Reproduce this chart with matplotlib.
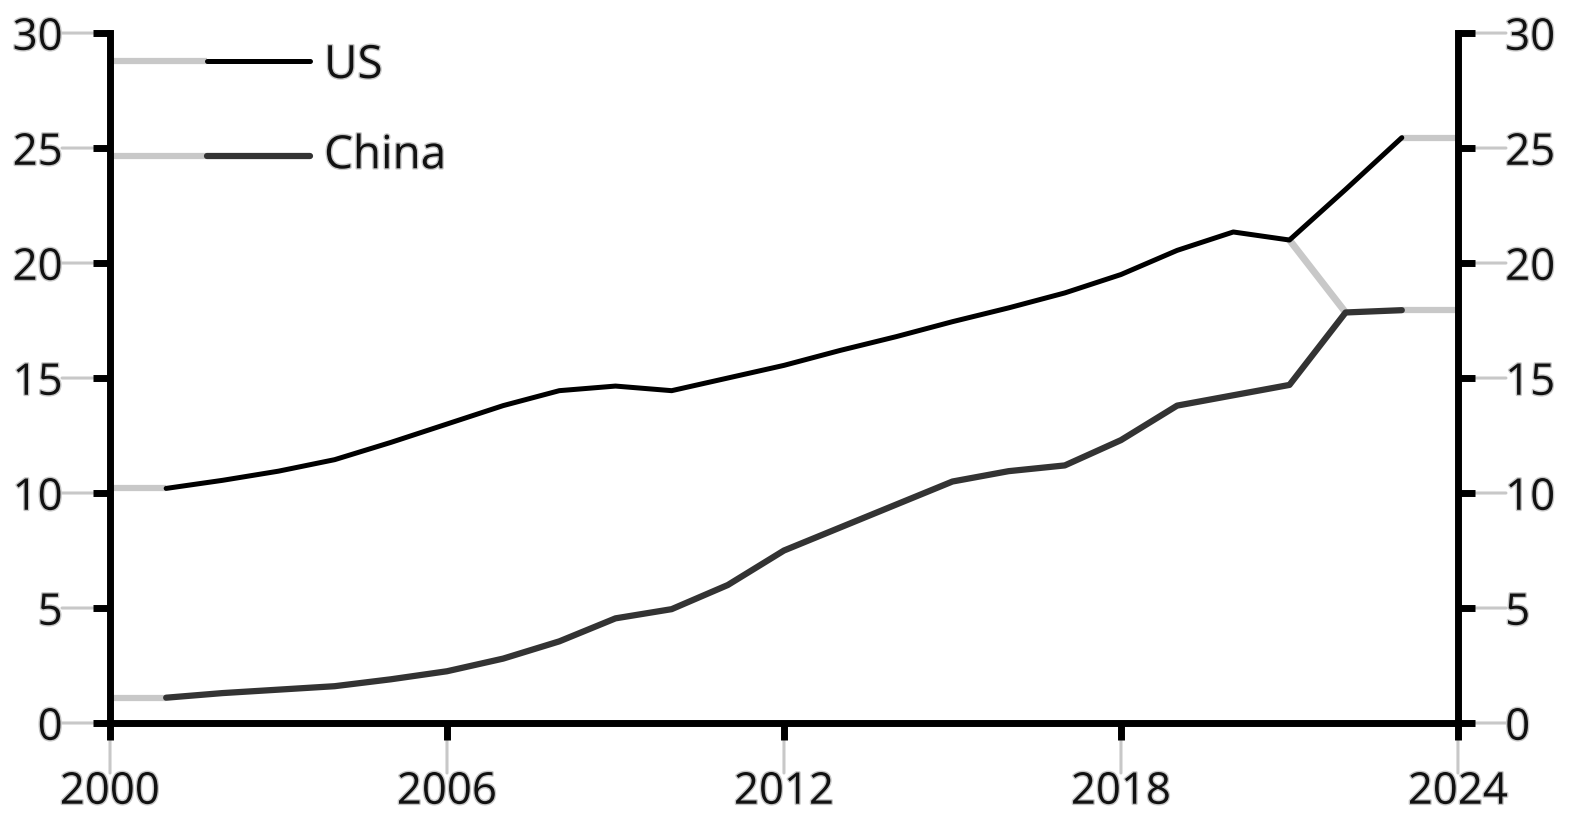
import matplotlib
matplotlib.use("Agg")
from matplotlib import pyplot as plt
from matplotlib import patheffects as pe

# values
years = [2001, 2002, 2003, 2004, 2005, 2006, 2007, 2008, 2009, 2010, 2011, 2012,
         2013, 2014, 2015, 2016, 2017, 2018, 2019, 2020, 2021, 2022, 2023]
us = [10.2, 10.55, 10.95, 11.45, 12.2, 13.0, 13.8, 14.45, 14.65, 14.45, 15.0, 15.55,
      16.2, 16.8, 17.45, 18.05, 18.7, 19.5, 20.55, 21.35, 21.0, 23.2, 25.45]
china = [1.1, 1.3, 1.45, 1.6, 1.9, 2.25, 2.8, 3.55, 4.55, 4.95, 6.0, 7.5,
         8.5, 9.5, 10.5, 10.95, 11.2, 12.3, 13.8, 14.25, 14.7, 17.85, 17.95]
yticks = [0, 5, 10, 15, 20, 25, 30]
xticks = [2000, 2006, 2012, 2018, 2024]
names = ["US", "China"]

GRAY = "#c8c8c8"
US_COL = "#000000"
CN_COL = "#333333"

plt.rcParams['font.family'] = ['Open Sans', 'DejaVu Sans']

fig = plt.figure(figsize=(15.76, 8.26), dpi=100)
ax = fig.add_axes([0.0698, 0.1247, 0.8553, 0.8353])
ax.set_xlim(2000, 2024)
ax.set_ylim(0, 30)

halo = [pe.withStroke(linewidth=2, foreground=GRAY)]

# gray stubs (axis -> first point, last point -> axis, US -> China jump)
ax.plot([2000, years[0]], [us[0], us[0]], color=GRAY, lw=4.5, solid_capstyle='butt', zorder=2)
ax.plot([2000, years[0]], [china[0], china[0]], color=GRAY, lw=4.5, solid_capstyle='butt', zorder=2)
ax.plot([years[-1], 2024], [us[-1], us[-1]], color=GRAY, lw=4.5, solid_capstyle='butt', zorder=2)
ax.plot([years[-1], 2024], [china[-1], china[-1]], color=GRAY, lw=4.5, solid_capstyle='butt', zorder=2)
ax.plot([years[-3], years[-2]], [us[-3], china[-2]], color=GRAY, lw=5, solid_capstyle='round', zorder=2)

ax.plot(years, us, color=US_COL, lw=3.6, solid_capstyle='round', solid_joinstyle='round', zorder=4)
ax.plot(years, china, color=CN_COL, lw=4.5, solid_capstyle='round', solid_joinstyle='round', zorder=4)

# spines and ticks
ax.spines['top'].set_visible(False)
for s in ['left', 'right', 'bottom']:
    ax.spines[s].set_linewidth(5)
    ax.spines[s].set_color('black')
ax.set_xticks(xticks)
ax.set_yticks(yticks)
ax.yaxis.set_ticks_position('both')
ax.tick_params(axis='both', direction='out', length=12, width=5, color='black',
               labelsize=31.5, labelcolor='#111111', pad=22)
ax.tick_params(axis='y', labelright=True)
for lab in ax.get_xticklabels() + ax.get_yticklabels() + ax.yaxis.get_ticklabels(minor=False, which='both'):
    lab.set_path_effects(halo)
for t in ax.yaxis.get_major_ticks():
    t.label2.set_path_effects(halo)

# gray connectors between ticks and labels
def connector(xy, trans, off):
    ax.annotate('', xy=xy, xycoords=trans, xytext=off, textcoords='offset pixels',
                arrowprops=dict(arrowstyle='-', color=GRAY, lw=2.2, shrinkA=0, shrinkB=12),
                zorder=1)

ytr = ax.get_yaxis_transform()
xtr = ax.get_xaxis_transform()
for v in yticks:
    connector((0, v), ytr, (-48, 0))
    connector((1, v), ytr, (48, 0))
for v in xticks:
    connector((v, 0), xtr, (0, -50))

# legend drawn by hand
leg_y = [0.959, 0.8217]
txt_y = [0.9348, 0.804]
cols = [US_COL, CN_COL]
lws = [3.6, 4.5]
for i in range(len(names)):
    ax.plot([0.0, 0.072], [leg_y[i], leg_y[i]], transform=ax.transAxes, color=GRAY,
            lw=4.5, solid_capstyle='butt', zorder=2, clip_on=False)
    ax.plot([0.072, 0.1484], [leg_y[i], leg_y[i]], transform=ax.transAxes, color=cols[i],
            lw=lws[i], solid_capstyle='round', zorder=4, clip_on=False)
    ax.text(0.1588, txt_y[i], names[i], transform=ax.transAxes, fontsize=33,
            color='#111111', va='baseline', ha='left', path_effects=halo)

fig.savefig("out.png", dpi=100)
